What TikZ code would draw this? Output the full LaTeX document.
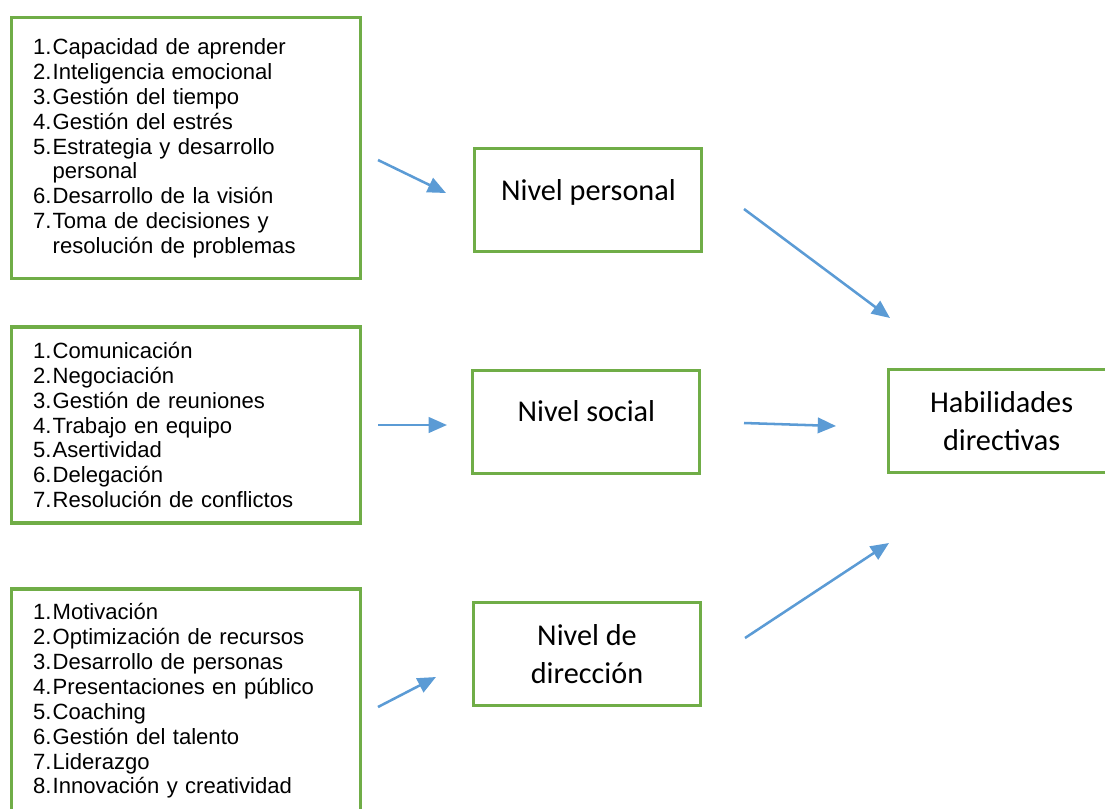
\documentclass[tikz,border=0pt]{standalone}
\usepackage{fontspec}
\setmainfont{Liberation Sans}
\newfontfamily\levelfont{Carlito}
\usepackage{tikz}
\usetikzlibrary{
    arrows.meta,
    positioning
}
\definecolor{boxgreen}{HTML}{70AD47}
\definecolor{arrowblue}{HTML}{5B9BD5}
\tikzset{
    listbox/.style={draw=boxgreen, line width=2.2pt, align=left,
        text width=7.665cm, inner xsep=0.53cm,
        font=\fontsize{15.7}{17.7}\selectfont},
    levelbox/.style={draw=boxgreen, line width=2.2pt, align=center,
        minimum width=5.675cm, minimum height=2.575cm,
        font=\levelfont\fontsize{21.5}{27}\selectfont},
    oneline/.style={text height=0.4cm, text depth=0.4cm},
    flowarrow/.style={-{Triangle[length=13pt, width=11pt]}, line width=1.8pt, arrowblue}
}
\newcommand{\itemno}[1]{\makebox[0.49cm][l]{#1}}
\newcommand{\itemgap}{\hspace*{0.49cm}}

\begin{document}
\begin{tikzpicture}[scale=1.0]
    \useasboundingbox (0,0) rectangle (27.625,-20.2);

    % lists of skills
    \node[listbox, minimum height=6.525cm] (personalList) at (4.66,-3.71) {%
        \itemno{1.}Capacidad de aprender\\
        \itemno{2.}Inteligencia emocional\\
        \itemno{3.}Gestión del tiempo\\
        \itemno{4.}Gestión del estrés\\
        \itemno{5.}Estrategia y desarrollo\\
        \itemgap personal\\
        \itemno{6.}Desarrollo de la visión\\
        \itemno{7.}Toma de decisiones y\\
        \itemgap resolución de problemas};
    \node[listbox, minimum height=4.9cm] (socialList) at (4.66,-10.625) {%
        \itemno{1.}Comunicación\\
        \itemno{2.}Negociación\\
        \itemno{3.}Gestión de reuniones\\
        \itemno{4.}Trabajo en equipo\\
        \itemno{5.}Asertividad\\
        \itemno{6.}Delegación\\
        \itemno{7.}Resolución de conflictos};
    \node[listbox, minimum height=5.6cm] (direccionList) at (4.66,-17.525) {%
        \itemno{1.}Motivación\\
        \itemno{2.}Optimización de recursos\\
        \itemno{3.}Desarrollo de personas\\
        \itemno{4.}Presentaciones en público\\
        \itemno{5.}Coaching\\
        \itemno{6.}Gestión del talento\\
        \itemno{7.}Liderazgo\\
        \itemno{8.}Innovación y creatividad};

    % levels
    \node[levelbox, oneline] (personal) at (14.71,-5.01) {Nivel personal};
    \node[levelbox, oneline] (social) at (14.66,-10.54) {Nivel social};
    \node[levelbox] (direccion) at (14.675,-16.36) {Nivel de\\dirección};
    \node[levelbox] (habilidades) at (25.04,-10.525) {Habilidades\\directivas};

    % arrow ends
    \coordinate (a1s) at (9.45,-4.0);
    \coordinate (a1e) at (11.15,-4.825);
    \coordinate (a2s) at (18.6,-5.225);
    \coordinate (a2e) at (22.25,-7.95);
    \coordinate (a3s) at (9.45,-10.625);
    \coordinate (a3e) at (11.175,-10.625);
    \coordinate (a4s) at (18.6,-10.575);
    \coordinate (a4e) at (20.9,-10.65);
    \coordinate (a5s) at (9.45,-17.675);
    \coordinate (a5e) at (10.9,-16.925);
    \coordinate (a6s) at (18.625,-15.95);
    \coordinate (a6e) at (22.225,-13.575);

    \draw[flowarrow] (a1s) -- (a1e);
    \draw[flowarrow] (a2s) -- (a2e);
    \draw[flowarrow] (a3s) -- (a3e);
    \draw[flowarrow] (a4s) -- (a4e);
    \draw[flowarrow] (a5s) -- (a5e);
    \draw[flowarrow] (a6s) -- (a6e);
\end{tikzpicture}
\end{document}
